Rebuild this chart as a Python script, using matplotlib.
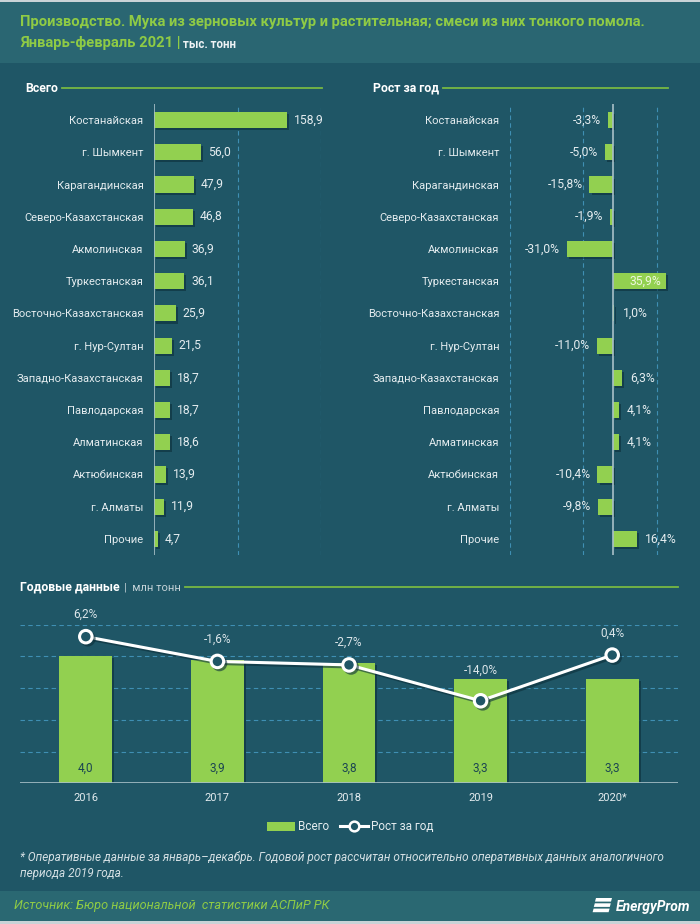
import matplotlib
matplotlib.use('Agg')
import matplotlib.pyplot as plt
import matplotlib.patheffects as pe
from matplotlib.patches import Rectangle, Polygon, Patch
from matplotlib.lines import Line2D

# ---------------- data ----------------
regions = ['Костанайская', 'г. Шымкент', 'Карагандинская', 'Северо-Казахстанская',
           'Акмолинская', 'Туркестанская', 'Восточно-Казахстанская', 'г. Нур-Султан',
           'Западно-Казахстанская', 'Павлодарская', 'Алматинская', 'Актюбинская',
           'г. Алматы', 'Прочие']
volume = [158.9, 56.0, 47.9, 46.8, 36.9, 36.1, 25.9, 21.5, 18.7, 18.7, 18.6, 13.9, 11.9, 4.7]
growth = [-3.3, -5.0, -15.8, -1.9, -31.0, 35.9, 1.0, -11.0, 6.3, 4.1, 4.1, -10.4, -9.8, 16.4]
years = ['2016', '2017', '2018', '2019', '2020*']
annual = [4.0, 3.9, 3.8, 3.3, 3.3]
annual_growth = [6.2, -1.6, -2.7, -14.0, 0.4]

# ---------------- style ----------------
W, H = 700, 924
BG = '#1f5666'
HEAD = '#2a6672'
FOOT = '#2a6872'
GREEN = '#92d050'
TITLE_GREEN = '#8fcb45'
TXT = '#e4ecef'
GRID = '#3f8fb3'
AXLINE = '#a8c0c8'
SHADOW = '#0c2f3a'
FONT = ['Roboto', 'DejaVu Sans']
plt.rcParams['font.family'] = FONT


def fmt(v, pct=False):
    s = f"{v:.1f}".replace('.', ',')
    return s + ('%' if pct else '')


fig = plt.figure(figsize=(W / 100, H / 100), dpi=100, facecolor=BG)


def fx(x):
    return x / W


def fy(y):
    return 1 - y / H


def add_ax(left, top, right, bottom):
    return fig.add_axes([fx(left), fy(bottom), (right - left) / W, (bottom - top) / H])


# background bands
fig.patches.append(Rectangle((0, fy(63)), 1, fy(2) - fy(63), transform=fig.transFigure,
                             facecolor=HEAD, edgecolor='none', zorder=0))
fig.patches.append(Rectangle((0, fy(921)), 1, fy(891) - fy(921), transform=fig.transFigure,
                             facecolor=FOOT, edgecolor='none', zorder=0))
fig.patches.append(Rectangle((0, fy(2)), 1, 1 - fy(2), transform=fig.transFigure,
                             facecolor='#c9d3d7', edgecolor='none', zorder=0))
fig.patches.append(Rectangle((0, 0), 1, fy(921), transform=fig.transFigure,
                             facecolor='#c9d3d7', edgecolor='none', zorder=0))

renderer = fig.canvas.get_renderer()


def text_end(t):
    bb = t.get_window_extent(renderer=renderer)
    return bb.x1  # pixels from left


# ---------------- title ----------------
fig.text(fx(20), fy(22), 'Производство. Мука из зерновых культур и растительная; смеси из них тонкого помола.',
         color=TITLE_GREEN, fontsize=10.6, fontweight='bold', va='center', ha='left')
t2 = fig.text(fx(20), fy(43), 'Январь-февраль 2021 |', color=TITLE_GREEN, fontsize=10.6,
              fontweight='bold', va='center', ha='left')
x_end = text_end(t2)
fig.text(fx(x_end + 3), fy(44), 'тыс. тонн', color='#eef3f5', fontsize=8.3, fontweight='bold',
         va='center', ha='left')


# ---------------- section headings ----------------
def heading(x, y, main, line_end, sub=None):
    t = fig.text(fx(x), fy(y), main, color='white', fontsize=8.8, fontweight='bold',
                 va='center', ha='left')
    e = text_end(t)
    if sub:
        t2 = fig.text(fx(e + 4), fy(y), sub, color='#c5d3d8', fontsize=8, va='center', ha='left')
        e = text_end(t2)
    fig.add_artist(Line2D([fx(e + 4), fx(line_end)], [fy(y), fy(y)], transform=fig.transFigure,
                          color='#78b843', lw=1.3))


heading(25, 88, 'Всего', 322)
heading(373, 88, 'Рост за год', 668)
heading(20, 587, 'Годовые данные', 678, sub='|  млн тонн')

bar_fx = [pe.withSimplePatchShadow(offset=(1.5, -1.5), shadow_rgbFace=SHADOW, alpha=0.6)]
ypos = list(range(len(regions)))

# ---------------- left panel: volumes ----------------
axL = add_ax(154, 104, 321, 555)
axL.set_facecolor('none')
axL.barh(ypos, volume, height=0.5, color=GREEN, path_effects=bar_fx, zorder=3)
axL.set_xlim(0, 200)
axL.set_ylim(len(regions) - 0.5, -0.5)
axL.set_yticks(ypos, regions)
axL.set_xticks([])
for v in [100, 200]:
    axL.axvline(v, color=GRID, lw=0.8, ls=(0, (4, 3)), zorder=1)
axL.axvline(0, color=AXLINE, lw=1.2, zorder=4)
for s in axL.spines.values():
    s.set_visible(False)
axL.tick_params(axis='y', length=0, pad=7.5, labelsize=8, labelcolor=TXT)
for i, v in enumerate(volume):
    axL.annotate(fmt(v), (v, i), xytext=(5, 0), textcoords='offset points',
                 ha='left', va='center', color=TXT, fontsize=8.7)

# ---------------- right panel: growth ----------------
axR = add_ax(509.6, 104, 679.1, 555)
axR.set_facecolor('none')
axR.barh(ypos, growth, height=0.5, color=GREEN, path_effects=bar_fx, zorder=3)
axR.set_xlim(-70, 45)
axR.set_ylim(len(regions) - 0.5, -0.5)
axR.set_yticks(ypos, regions)
axR.set_xticks([])
for v in [-70, -20, 30]:
    axR.axvline(v, color=GRID, lw=0.8, ls=(0, (4, 3)), zorder=1)
axR.axvline(0, color=AXLINE, lw=1.2, zorder=4)
for s in axR.spines.values():
    s.set_visible(False)
axR.tick_params(axis='y', length=0, pad=7.5, labelsize=8, labelcolor=TXT)
for i, v in enumerate(growth):
    if v > 30:
        axR.annotate(fmt(v, True), (v, i), xytext=(-3, 0), textcoords='offset points',
                     ha='right', va='center', color='#eef7e0', fontsize=8.7, zorder=5)
    elif v >= 0:
        axR.annotate(fmt(v, True), (v, i), xytext=(6, 0), textcoords='offset points',
                     ha='left', va='center', color=TXT, fontsize=8.7)
    else:
        axR.annotate(fmt(v, True), (v, i), xytext=(-5, 0), textcoords='offset points',
                     ha='right', va='center', color=TXT, fontsize=8.7)

# ---------------- bottom panel: annual ----------------
axB = add_ax(20, 624.6, 678, 783.3)
axB.set_facecolor('none')
xs = list(range(len(years)))
bars = axB.bar(xs, annual, width=0.4, color=GREEN, path_effects=bar_fx, zorder=3)
axB.set_xlim(-0.5, len(years) - 0.5)
axB.set_ylim(0, 5)
axB.set_yticks([])
for v in [1, 2, 3, 4, 5]:
    axB.axhline(v, color=GRID, lw=0.8, ls=(0, (4, 3)), zorder=1)
for s in axB.spines.values():
    s.set_visible(False)
axB.axhline(0, color=AXLINE, lw=1.2, zorder=4)
axB.set_xticks(xs, years)
axB.tick_params(axis='x', length=0, pad=7, labelsize=8, labelcolor=TXT)
for i, v in enumerate(annual):
    axB.annotate(fmt(v), (i, 0), xytext=(0, 11), textcoords='offset points',
                 ha='center', va='center', color='#1c4652', fontsize=8.5, zorder=6)

ax2 = axB.twinx()
ax2.set_ylim(-40, 10)
ax2.set_yticks([])
for s in ax2.spines.values():
    s.set_visible(False)
line, = ax2.plot(xs, annual_growth, color='white', lw=2.2, marker='o', markersize=9,
                 markerfacecolor=BG, markeredgecolor='white', markeredgewidth=2.2, zorder=5,
                 path_effects=[pe.SimpleLineShadow(offset=(1.5, -1.5), shadow_color=SHADOW, alpha=0.6),
                               pe.Normal()])
gmin = min(annual_growth)
for i, v in enumerate(annual_growth):
    off = 22 if v == gmin else 16
    ax2.annotate(fmt(v, True), (i, v), xytext=(0, off), textcoords='offset points',
                 ha='center', va='center', color='#dce6ea', fontsize=8.5)

# legend
leg_handles = [Patch(facecolor=GREEN, edgecolor='none'),
               Line2D([0], [0], color='white', lw=2.2, marker='o', markersize=7,
                      markerfacecolor=BG, markeredgecolor='white', markeredgewidth=1.8)]
fig.legend(leg_handles, ['Всего', 'Рост за год'], loc='center', bbox_to_anchor=(fx(350), fy(827)),
           ncol=2, frameon=False, handlelength=2.4, handleheight=0.7, columnspacing=0.9,
           handletextpad=0.25, fontsize=8.5, labelcolor=TXT)

# ---------------- footnote ----------------
fig.text(fx(20), fy(858), '* Оперативные данные за январь–декабрь. Годовой рост рассчитан относительно '
         'оперативных данных аналогичного', color='#d5e0e4', fontsize=8.5, style='italic',
         va='center', ha='left')
fig.text(fx(20), fy(873), 'периода 2019 года.', color='#d5e0e4', fontsize=8.5, style='italic',
         va='center', ha='left')

# ---------------- footer ----------------
fig.text(fx(14), fy(906), 'Источник: Бюро национальной  статистики АСПиР РК', color=TITLE_GREEN,
         fontsize=9.2, style='italic', va='center', ha='left')
fig.text(fx(690), fy(907), 'EnergyProm', color='white', fontsize=10, style='italic',
         fontweight='bold', va='center', ha='right')
# logo stripes
for k in range(3):
    y0 = 898 + k * 5.3
    pts = [(fx(594 - k * 1.2 + 2), fy(y0)), (fx(610 - k * 1.2 + 2), fy(y0)),
           (fx(609 - k * 1.2 + 2), fy(y0 + 3.6)), (fx(593 - k * 1.2 + 2), fy(y0 + 3.6))]
    fig.patches.append(Polygon(pts, closed=True, transform=fig.transFigure,
                               facecolor='white', edgecolor='none'))

fig.savefig('out.png', dpi=100, facecolor=BG)
